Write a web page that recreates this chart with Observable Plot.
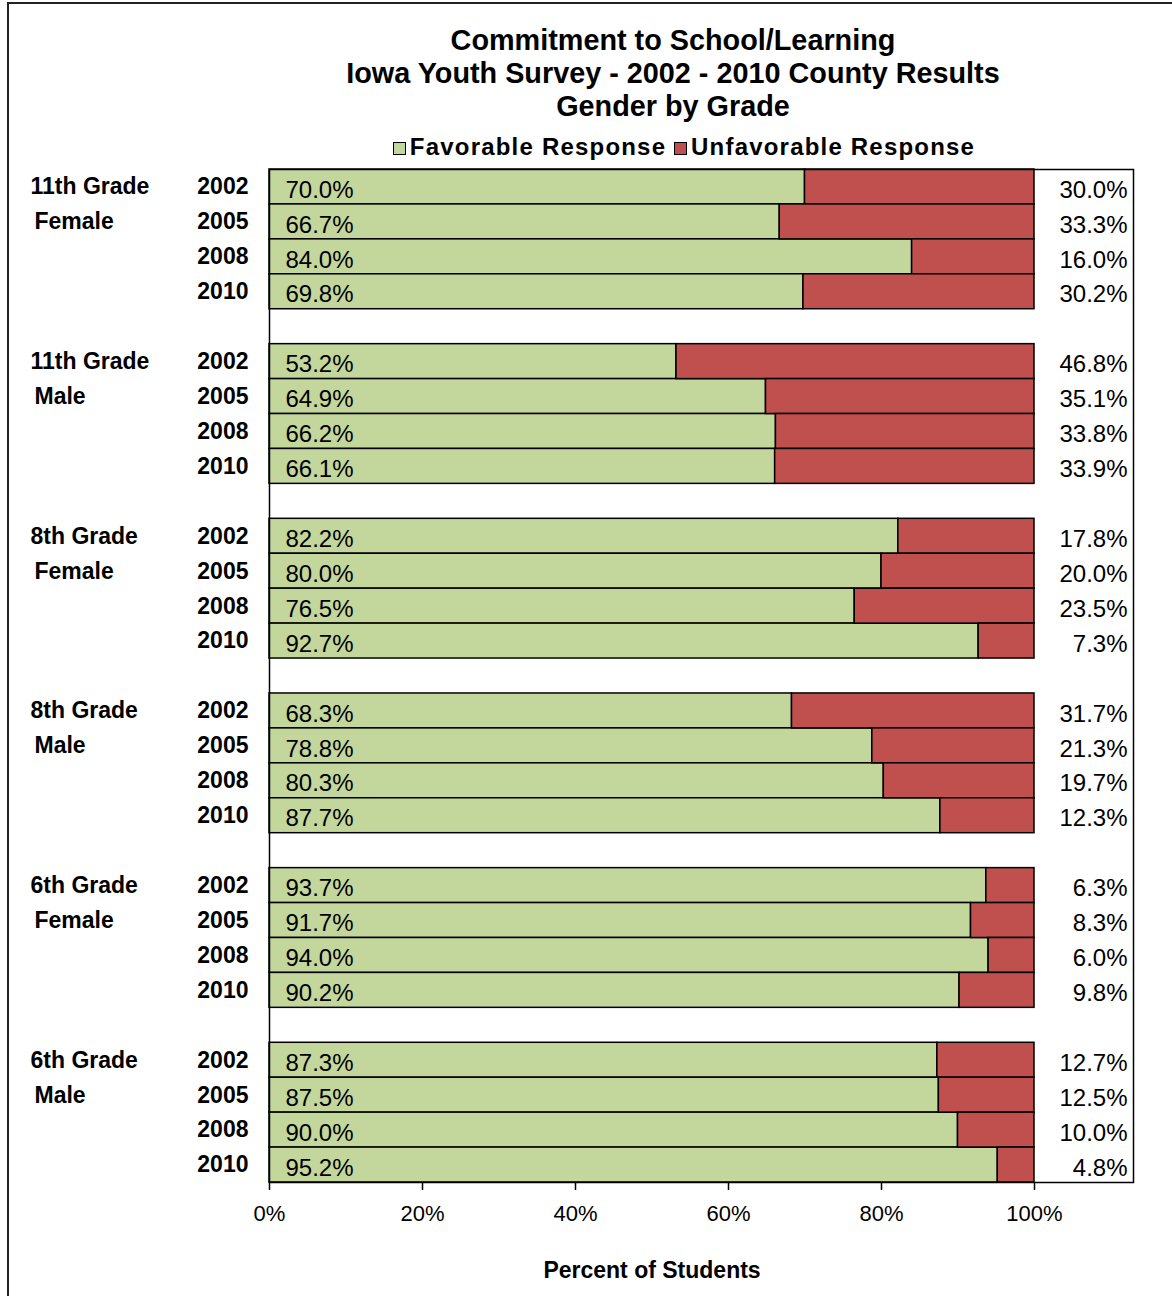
<!DOCTYPE html>
<html>
<head>
<meta charset="utf-8">
<script src="https://cdn.jsdelivr.net/npm/d3@7"></script>
<script src="https://cdn.jsdelivr.net/npm/@observablehq/plot@0.6"></script>
<style>
  html, body { margin: 0; padding: 0; background: #fff; }
  #wrap { position: relative; width: 1172px; height: 1296px; overflow: hidden; font-family: "Liberation Sans", Arial, sans-serif; color: #000; }
  #border { position: absolute; left: 7px; top: 2px; width: 1200px; height: 1400px; border-left: 2px solid #222; border-top: 2px solid #222; box-sizing: border-box; }
  #title { position: relative; margin: 0; padding: 24px 0 0 174px; box-sizing: border-box; height: 123px; width: 1172px; text-align: center; font-weight: bold; font-size: 28.8px; line-height: 33px; white-space: nowrap; }
  #legend { position: relative; margin-top: 9px; height: 30px; line-height: 30px; width: 1172px; padding-left: 196px; box-sizing: border-box; text-align: center; font-weight: bold; font-size: 24px; letter-spacing: 1.2px; white-space: nowrap; }
  .sw { display: inline-block; width: 11px; height: 11px; border: 1.5px solid #000; margin-right: 4px; vertical-align: 0px; }
  #chart { position: relative; }
  #chart svg { display: block; overflow: visible; }
</style>
</head>
<body>
<div id="wrap">
  <div id="border"></div>
  <div id="title">Commitment to School/Learning<br>Iowa Youth Survey - 2002 - 2010 County Results<br>Gender by Grade</div>
  <div id="legend"></div>
  <div id="chart"></div>
</div>
<script>
const grades = ["11th Grade", "11th Grade", "8th Grade", "8th Grade", "6th Grade", "6th Grade"];
const genders = ["Female", "Male", "Female", "Male", "Female", "Male"];
const years = ["2002", "2005", "2008", "2010"];
const favorable = [
  [70.0, 66.7, 84.0, 69.8],
  [53.2, 64.9, 66.2, 66.1],
  [82.2, 80.0, 76.5, 92.7],
  [68.3, 78.8, 80.3, 87.7],
  [93.7, 91.7, 94.0, 90.2],
  [87.3, 87.5, 90.0, 95.2]
];
const unfavorable = [
  [30.0, 33.3, 16.0, 30.2],
  [46.8, 35.1, 33.8, 33.9],
  [17.8, 20.0, 23.5, 7.3],
  [31.7, 21.3, 19.7, 12.3],
  [6.3, 8.3, 6.0, 9.8],
  [12.7, 12.5, 10.0, 4.8]
];
const xTicks = [0, 20, 40, 60, 80, 100];
const seriesNames = ["Favorable Response", "Unfavorable Response"];
const seriesColors = ["#C3D69B", "#C0504D"];

// build rows
const rows = [];
const domain = [];
grades.forEach((g, gi) => {
  if (gi > 0) domain.push("gap" + gi);
  years.forEach((yr, yi) => {
    const key = gi + "|" + yr;
    domain.push(key);
    rows.push({key, gi, yi, year: yr, grade: g, gender: genders[gi], fav: favorable[gi][yi], unf: unfavorable[gi][yi]});
  });
});
const gradeLabels = rows.filter(r => r.yi === 0);
const genderLabels = rows.filter(r => r.yi === 1);

// legend
const legend = document.getElementById("legend");
seriesNames.forEach((n, i) => {
  const s = document.createElement("span");
  s.className = "sw";
  s.style.background = seriesColors[i];
  legend.appendChild(s);
  legend.appendChild(document.createTextNode(n + (i === 0 ? " " : "")));
});

const fmt = v => v.toFixed(1) + "%";

const chart = Plot.plot({
  width: 1172,
  height: 1134,
  marginTop: 7,
  marginBottom: 114,
  marginLeft: 269,
  marginRight: 39,
  style: { fontFamily: "Liberation Sans, Arial, sans-serif", fontSize: "22px", background: "transparent", color: "#000" },
  x: { domain: [0, 112.94] },
  y: { domain, padding: 0, round: false, axis: null },
  marks: [
    Plot.barX(rows, { y: "key", x1: 0, x2: "fav", fill: seriesColors[0], stroke: "#000", strokeWidth: 1.5 }),
    Plot.barX(rows, { y: "key", x1: "fav", x2: 100, fill: seriesColors[1], stroke: "#000", strokeWidth: 1.5 }),
    Plot.frame({ stroke: "#000", strokeWidth: 1.5 }),
    Plot.axisX({ ticks: xTicks, tickFormat: d => d + "%", tickSize: 8, tickPadding: 15, fontSize: 22, label: null, strokeWidth: 1.5 }),
    Plot.text(["Percent of Students"], { x: 50, frameAnchor: "bottom", dy: 95, text: d => d, fontSize: 23, fontWeight: "bold" }),
    Plot.text(rows, { y: "key", frameAnchor: "left", dx: 16, dy: 3, text: d => fmt(d.fav), textAnchor: "start", fontSize: 24 }),
    Plot.text(rows, { y: "key", frameAnchor: "right", dx: -6, dy: 3, text: d => fmt(d.unf), textAnchor: "end", fontSize: 24 }),
    Plot.text(rows, { y: "key", frameAnchor: "left", dx: -21, text: "year", textAnchor: "end", fontSize: 23, fontWeight: "bold" }),
    Plot.text(gradeLabels, { y: "key", frameAnchor: "left", dx: -239, text: "grade", textAnchor: "start", fontSize: 23, fontWeight: "bold" }),
    Plot.text(genderLabels, { y: "key", frameAnchor: "left", dx: -235, text: "gender", textAnchor: "start", fontSize: 23, fontWeight: "bold" })
  ]
});
document.getElementById("chart").appendChild(chart);
</script>
</body>
</html>
